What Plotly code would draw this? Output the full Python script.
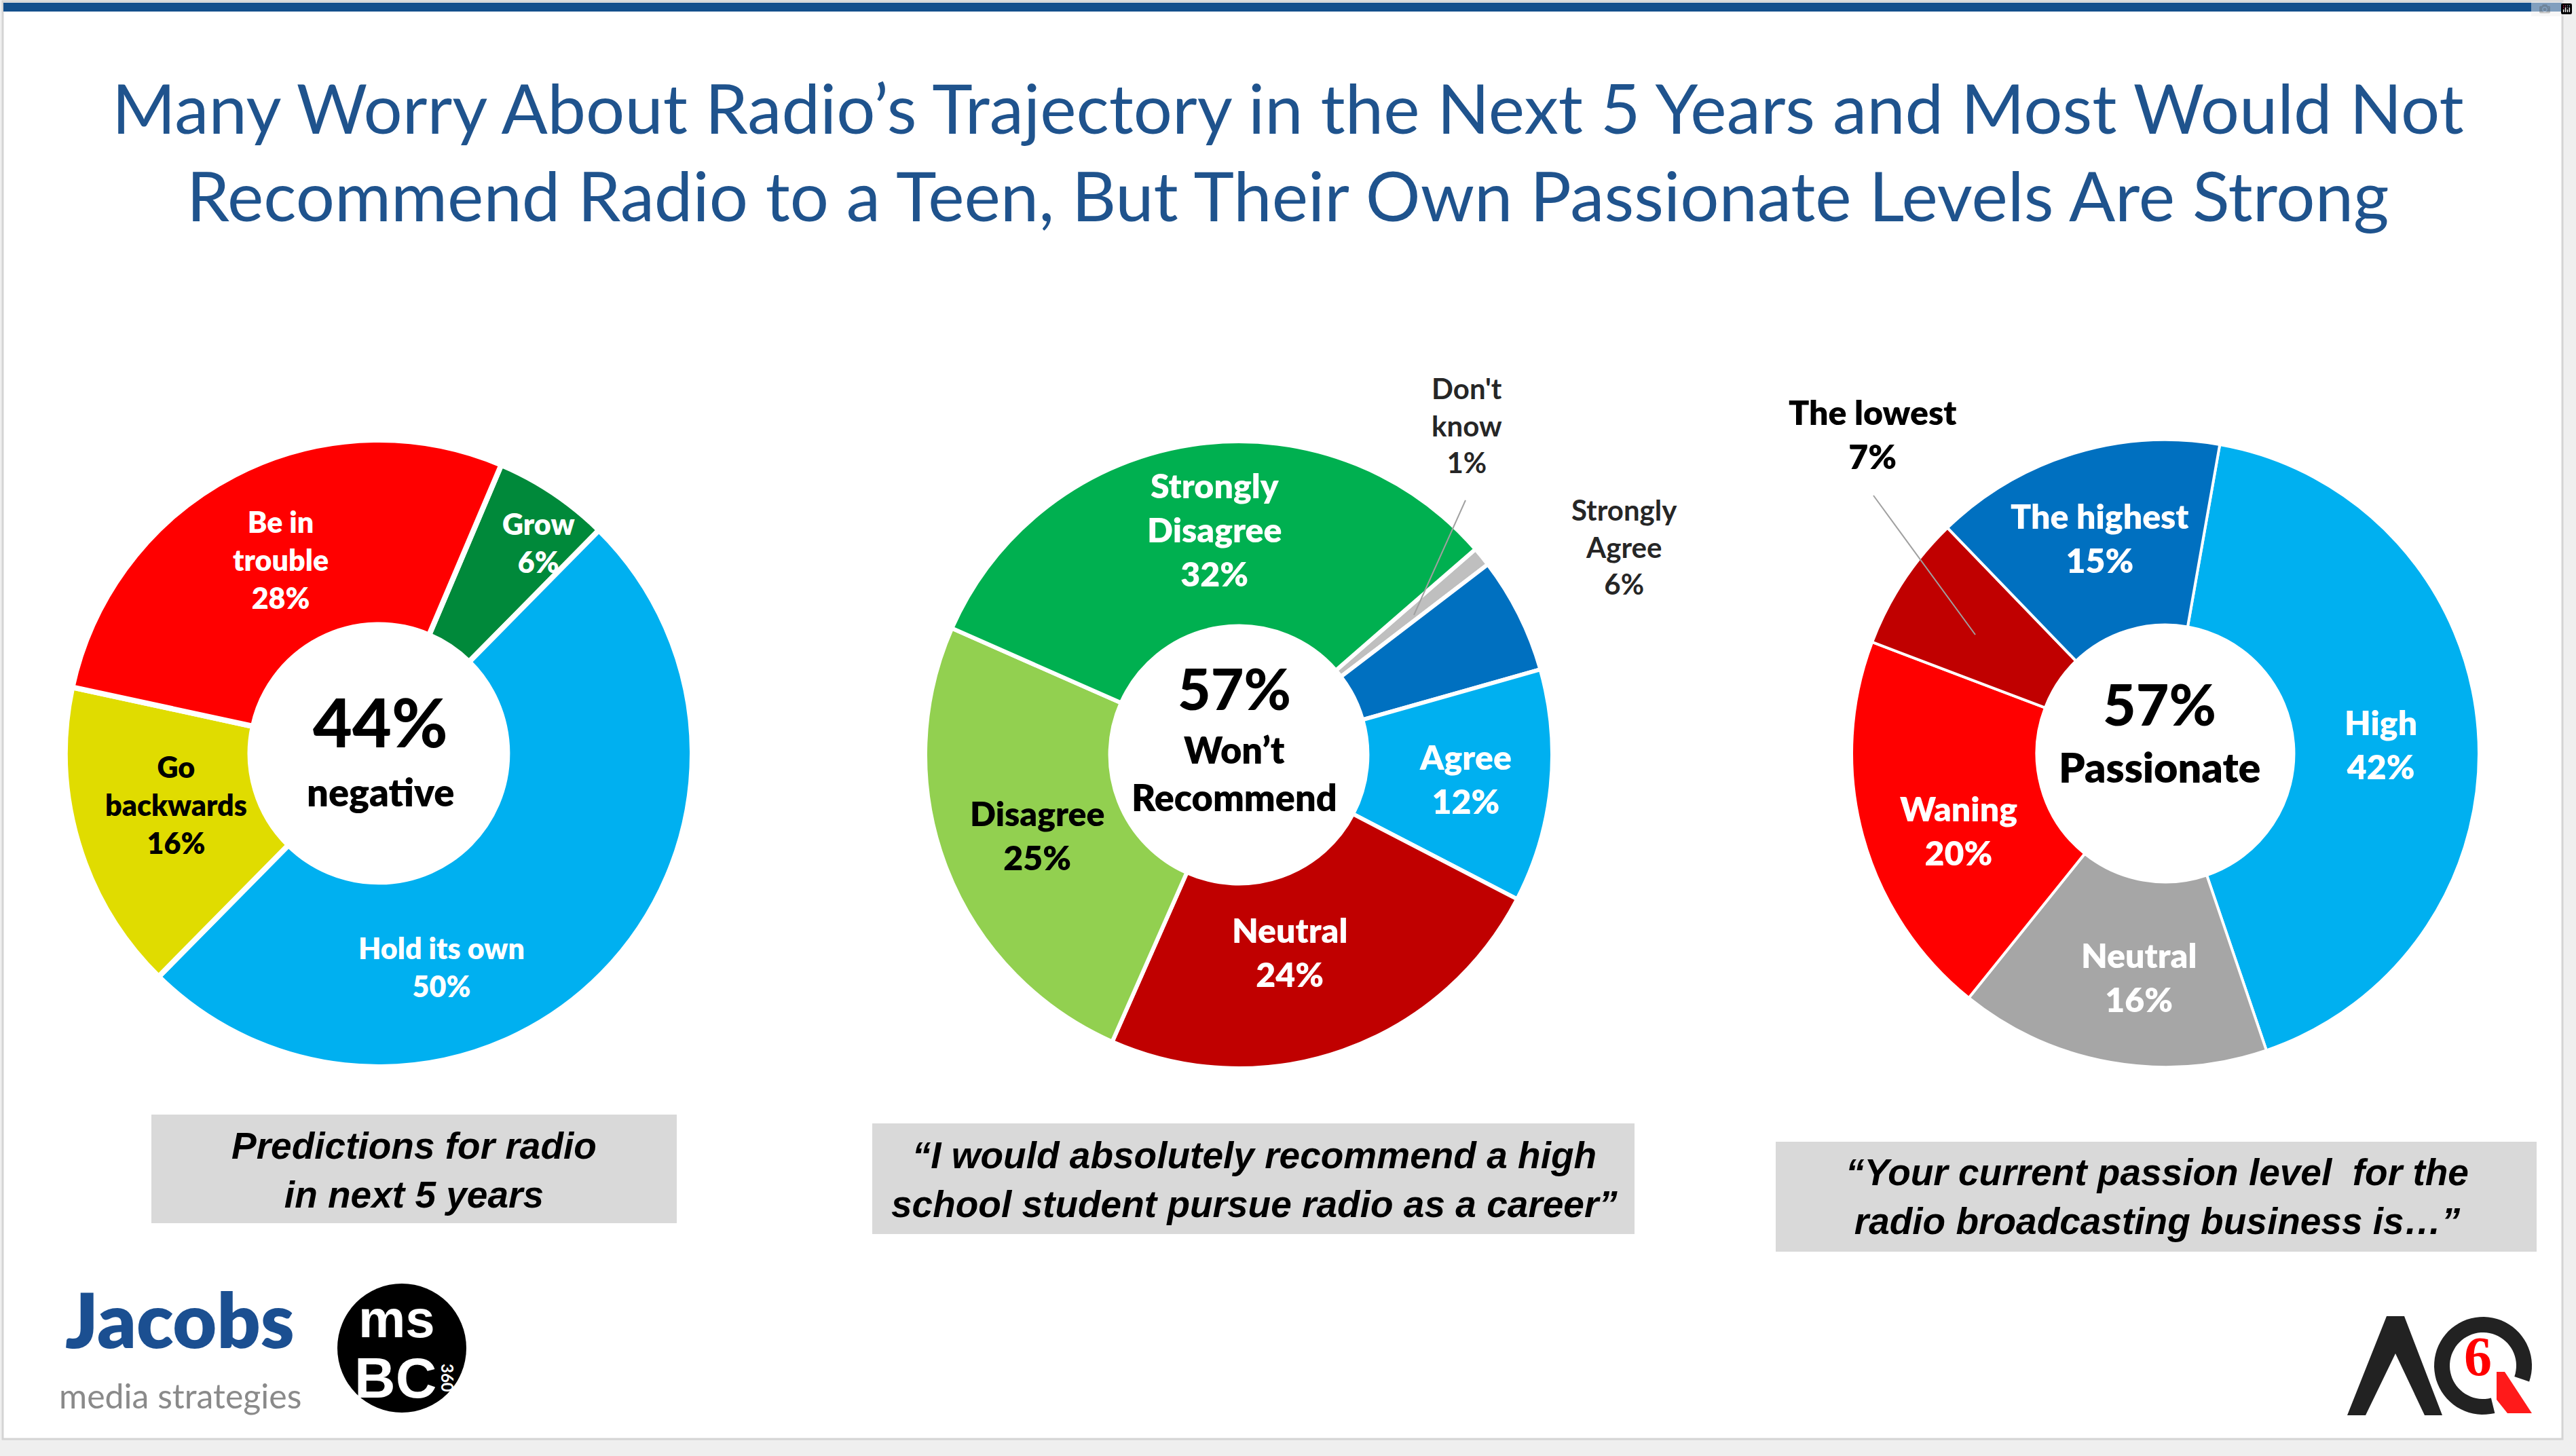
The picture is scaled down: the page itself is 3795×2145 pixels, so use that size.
import numpy as np
import plotly.graph_objects as go

W, H = 3795, 2145

# ---------------- data ----------------
pred_labels = ["Grow", "Hold its own", "Go backwards", "Be in trouble"]
pred_values = [6, 50, 16, 28]
pred_colors = ["#00893A", "#00B0F0", "#E0DC00", "#FF0000"]

rec_labels = ["Don't know", "Strongly Agree", "Agree", "Neutral", "Disagree", "Strongly Disagree"]
rec_values = [1, 6, 12, 24, 25, 32]
rec_colors = ["#BFBFBF", "#0070C0", "#00B0F0", "#C00000", "#92D050", "#00B050"]

pas_labels = ["High", "Neutral", "Waning", "The lowest", "The highest"]
pas_values = [42, 16, 20, 7, 15]
pas_colors = ["#00B0F0", "#A6A6A6", "#FF0000", "#C00000", "#0070C0"]

captions = [
    "Predictions for radio<br>in next 5 years",
    "\u201cI would absolutely recommend a high<br>school student pursue radio as a career\u201d",
    "\u201cYour current passion level  for the<br>radio broadcasting business is\u2026\u201d",
]
title_lines = [
    "Many Worry About Radio\u2019s Trajectory in the Next 5 Years and Most Would Not",
    "Recommend Radio to a Teen, But Their Own Passionate Levels Are Strong",
]

# ---------------- layout helpers ----------------
LATO = "Lato, 'Open Sans', sans-serif"
ARIAL = "'Liberation Sans', Arial, sans-serif"
R = 462
centers = [(558, 1110), (1825, 1112), (3190, 1110)]


def dom(cx, cy, r=R):
    return dict(x=[(cx - r) / W, (cx + r) / W], y=[1 - (cy + r) / H, 1 - (cy - r) / H])


annotations = []
shapes = []


def ann(x, y, text, size, color="white", family=LATO, weight=800, italic=False, **kw):
    d = dict(x=x, y=y, xref="x", yref="y", text=text, showarrow=False,
             font=dict(size=size, color=color, family=family, weight=weight,
                       style="italic" if italic else "normal"),
             xanchor="center", yanchor="middle", align="center")
    d.update(kw)
    annotations.append(d)


def label_text(name, val):
    name = {"Be in trouble": "Be in<br>trouble", "Go backwards": "Go<br>backwards",
            "Strongly Disagree": "Strongly<br>Disagree", "Strongly Agree": "Strongly<br>Agree",
            "Don't know": "Don't<br>know", "The lowest": "The lowest"}.get(name, name)
    return f"{name}<br>{val}%"


fig = go.Figure()
pies = [
    (pred_labels, pred_values, pred_colors, 23, 8),
    (rec_labels, rec_values, rec_colors, 49, 6),
    (pas_labels, pas_values, pas_colors, 10, 4),
]
for (labs, vals, cols, rot, lw), (cx, cy) in zip(pies, centers):
    fig.add_trace(go.Pie(
        labels=labs, values=vals, sort=False, direction="clockwise", rotation=rot,
        hole=0.41, textinfo="none", showlegend=False,
        marker=dict(colors=cols, line=dict(color="white", width=lw)),
        domain=dom(cx, cy),
    ))

# ----- slice labels (positions are layout, text from data) -----
pred_pos = {"Grow": (793, 799, "white"), "Hold its own": (650, 1424, "white"),
            "Go backwards": (259, 1185, "black"), "Be in trouble": (413, 824, "white")}
for lab, v in zip(pred_labels, pred_values):
    x, y, c = pred_pos[lab]
    ann(x, y, label_text(lab, v), 43, c)

rec_pos = {"Don't know": (2161, 626, "#262626", 42), "Strongly Agree": (2393, 805, "#262626", 42),
           "Agree": (2159, 1147, "white", 50), "Neutral": (1900, 1402, "white", 50),
           "Disagree": (1528, 1230, "black", 50), "Strongly Disagree": (1789, 780, "white", 50)}
for lab, v in zip(rec_labels, rec_values):
    x, y, c, s = rec_pos[lab]
    ann(x, y, label_text(lab, v), s, c, weight=700 if c == "#262626" else 800)

pas_pos = {"High": (3507, 1096, "white"), "Neutral": (3151, 1439, "white"),
           "Waning": (2885, 1223, "white"), "The lowest": (2759, 639, "black"),
           "The highest": (3093, 792, "white")}
for lab, v in zip(pas_labels, pas_values):
    x, y, c = pas_pos[lab]
    ann(x, y, label_text(lab, v), 50, c)

# leader lines
shapes.append(dict(type="line", xref="x", yref="y", x0=2159, y0=737, x1=2083, y1=906,
                   line=dict(color="#A0A0A0", width=2), layer="above"))
shapes.append(dict(type="line", xref="x", yref="y", x0=2760, y0=730, x1=2910, y1=935,
                   line=dict(color="#A0A0A0", width=2), layer="above"))

# ----- centre texts -----
neg = pred_values[pred_labels.index("Go backwards")] + pred_values[pred_labels.index("Be in trouble")]
wont = rec_values[rec_labels.index("Disagree")] + rec_values[rec_labels.index("Strongly Disagree")]
pas = pas_values[pas_labels.index("High")] + pas_values[pas_labels.index("The highest")]
ann(560, 1062, f"{neg}%", 100, "black", weight=900)
ann(560, 1166, "negative", 56, "black")
ann(1818, 1013, f"{wont}%", 84, "black", weight=900)
ann(1818, 1104, "Won\u2019t", 54, "black")
ann(1818, 1174, "Recommend", 54, "black")
ann(3181, 1036, f"{pas}%", 84, "black", weight=900)
ann(3181, 1129, "Passionate", 61, "black")

# ----- page frame -----
shapes.append(dict(type="rect", xref="x", yref="y", x0=4, y0=2, x1=3775, y1=2120,
                   fillcolor="white", line=dict(color="#D4D4D4", width=3), layer="below"))
shapes.append(dict(type="rect", xref="x", yref="y", x0=5, y0=4, x1=3774, y1=17,
                   fillcolor="#134F8C", line=dict(width=0), layer="below"))

# ----- title -----
ann(W / 2, 158, title_lines[0], 101, "#1F538D", weight=400)
ann(W / 2, 287, title_lines[1], 101, "#1F538D", weight=400)

# ----- caption boxes -----
boxes = [(223, 1642, 997, 1802, 610, 1724), (1285, 1655, 2408, 1818, 1848, 1738),
         (2616, 1682, 3737, 1844, 3178, 1763)]
for (x0, y0, x1, y1, tx, ty), cap in zip(boxes, captions):
    shapes.append(dict(type="rect", xref="x", yref="y", x0=x0, y0=y0, x1=x1, y1=y1,
                       fillcolor="#D9D9D9", line=dict(width=0), layer="below"))
    ann(tx, ty, cap, 55, "black", family=ARIAL, weight=700, italic=True)

# ----- logos (approximate) -----
ann(265, 2012, "Jacobs", 112, "#1B4F91", family="Lato, sans-serif", weight=800, yanchor="bottom")
ann(265, 2024, "media strategies", 50, "#8A8A8A", family="Lato, sans-serif", weight=400, yanchor="top")
shapes.append(dict(type="circle", xref="x", yref="y", x0=497, y0=1891, x1=687, y1=2081,
                   fillcolor="black", line=dict(width=0), layer="above"))
ann(584, 1943, "ms", 78, "white", family="'Liberation Sans Narrow', 'Liberation Sans', sans-serif", weight=700)
ann(582, 2030, "BC", 84, "white", family="'Liberation Sans Narrow', 'Liberation Sans', sans-serif", weight=700)
ann(660, 2030, "360", 24, "white", textangle=90, weight=700)

# AQ6 logo
shapes.append(dict(type="path", xref="x", yref="y", layer="above",
                   path="M3458,2085 L3516,1939 L3542,1939 L3598,2085 L3572,2085 L3529,1994 L3485,2085 Z",
                   fillcolor="#222222", line=dict(width=0)))
qcx, qcy, ro, ri = 3658, 2012, 72, 49
angs = np.radians(np.linspace(166, 469, 60))
outer = [(qcx + ro * np.sin(a), qcy - ro * np.cos(a)) for a in angs]
inner = [(qcx + ri * np.sin(a), qcy - ri * np.cos(a)) for a in angs[::-1]]
pts = outer + inner
qpath = "M" + " L".join(f"{x:.1f},{y:.1f}" for x, y in pts) + " Z"
shapes.append(dict(type="path", xref="x", yref="y", layer="above", path=qpath,
                   fillcolor="#222222", line=dict(width=0)))
shapes.append(dict(type="path", xref="x", yref="y", layer="above",
                   path="M3678,2021 L3690,2021 L3730,2082 L3694,2082 L3678,2062 Z",
                   fillcolor="#FF1A1A", line=dict(width=0)))
ann(3650, 1998, "6", 82, "#FF0000", family="'Liberation Serif', serif", weight=700)

fig.update_layout(
    width=W, height=H, margin=dict(l=0, r=0, t=0, b=0, pad=0),
    paper_bgcolor="#EFEFEF", plot_bgcolor="rgba(0,0,0,0)",
    xaxis=dict(range=[0, W], visible=False, fixedrange=True, domain=[0, 1]),
    yaxis=dict(range=[H, 0], visible=False, fixedrange=True, domain=[0, 1]),
    shapes=shapes, annotations=annotations,
    font=dict(family=LATO),
)

fig.write_html("out.html", post_script="document.body.style.margin='0';document.body.style.overflow='hidden';")
